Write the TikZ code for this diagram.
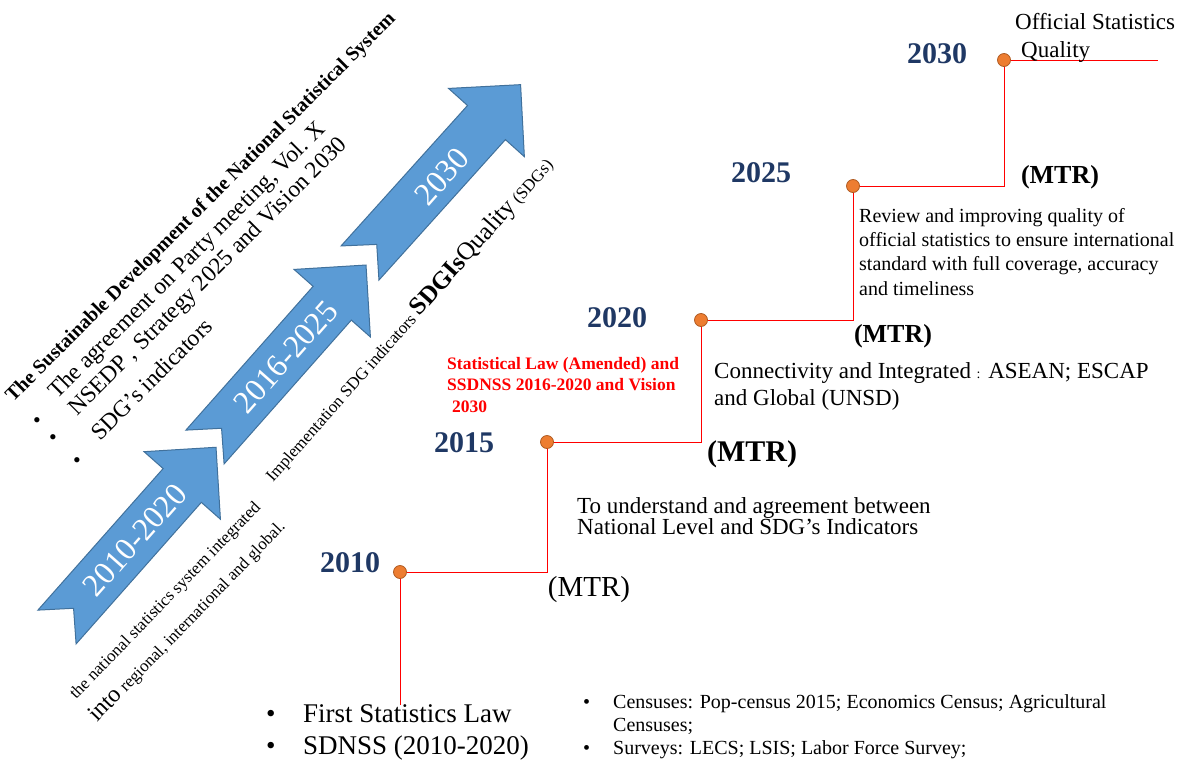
\documentclass[tikz,border=0pt]{standalone}
\usepackage{fontspec}
\setmainfont{Liberation Serif}
\usetikzlibrary{positioning}
\pgfdeclarelayer{background}
\pgfsetlayers{background,main}
\definecolor{arrowblue}{HTML}{5B9BD5}
\definecolor{arrowedge}{HTML}{41719C}
\definecolor{yearblue}{HTML}{1F3864}
\definecolor{dotorange}{HTML}{ED7D31}
\definecolor{dotedge}{HTML}{AE5A21}
\tikzset{
  yeararrow/.style={fill=arrowblue,draw=arrowedge,line width=1pt},
  arrowlabel/.style={text=white,inner sep=0pt,rotate=48.5,font=\fontsize{32}{36}\selectfont},
  yearlabel/.style={text=yearblue,inner sep=0pt,font=\fontsize{30}{34}\selectfont\bfseries},
  mtr/.style={inner sep=0pt,font=\fontsize{26}{30}\selectfont\bfseries},
  yeardot/.style={circle,fill=dotorange,draw=dotedge,line width=0.8pt,minimum size=13pt,inner sep=0pt},
  stepline/.style={draw=red,line width=0.9pt},
  note/.style={inner sep=0pt,anchor=north west,align=left},
  slanted/.style={inner sep=0pt,anchor=base west},
}

\begin{document}
\begin{tikzpicture}[x=1pt,y=-1pt,semithick]
  \useasboundingbox (0,0) rectangle (1185,761);

  % the three block arrows
  \draw[yeararrow,shift={(57,627)},rotate=48.5] (0,25.5) -- (189,25.5) -- (189,51) -- (240,0) -- (189,-51) -- (189,-25.5) -- (0,-25.5) -- (25,0) -- cycle;
  \draw[yeararrow,shift={(205,447)},rotate=48.5] (0,25.5) -- (192,25.5) -- (192,51) -- (243,0) -- (192,-51) -- (192,-25.5) -- (0,-25.5) -- (25,0) -- cycle;
  \draw[yeararrow,shift={(360,263)},rotate=48] (0,25.5) -- (189,25.5) -- (189,51) -- (240,0) -- (189,-51) -- (189,-25.5) -- (0,-25.5) -- (25,0) -- cycle;
  \node[arrowlabel] (p1) at (135,540) {2010-2020};
  \node[arrowlabel] (p2) at (286,357) {2016-2025};
  \node[arrowlabel] (p3) at (442,177) {2030};

  % slanted texts on the left
  \node[slanted,rotate=45,font=\fontsize{20}{24}\selectfont\bfseries] (title) at (13,403) {The Sustainable Development of the National Statistical System};
  \node[slanted,rotate=45,font=\fontsize{23.5}{28}\selectfont] (party) at (57,400) {The agreement on Party meeting,  Vol. X};
  \node[slanted,rotate=45,font=\fontsize{23.5}{28}\selectfont] (nsedp) at (77,417) {NSEDP , Strategy 2025 and Vision 2030};
  \node[slanted,rotate=45,font=\fontsize{23.5}{28}\selectfont] (sdgind) at (100,442) {SDG’s indicators};
  \node[inner sep=0pt,font=\fontsize{22}{26}\selectfont] (b1) at (37,423) {\textbullet};
  \node[inner sep=0pt,font=\fontsize{22}{26}\selectfont] (b2) at (53,440) {\textbullet};
  \node[inner sep=0pt,font=\fontsize{22}{26}\selectfont] (b3) at (77,463) {\textbullet};
  \node[slanted,rotate=46,font=\fontsize{17}{20}\selectfont] (integ) at (76,700) {the national statistics system integrated};
  \node[slanted,rotate=46,font=\fontsize{17}{20}\selectfont] (intl) at (97,723) {{\fontsize{24}{28}\selectfont into} regional, international and global.};
  \node[slanted,rotate=48.5,font=\fontsize{17}{20}\selectfont] (impl) at (273,483) {Implementation SDG indicators {\fontsize{25}{28}\selectfont\bfseries SDGIs}{\fontsize{25}{28}\selectfont Quality} (SDGs)};

  % timeline
  \node[yeardot] (d2010) at (400,572) {};
  \node[yeardot] (d2015) at (547,442) {};
  \node[yeardot] (d2020) at (701,320) {};
  \node[yeardot] (d2025) at (853,186) {};
  \node[yeardot] (d2030) at (1004,60) {};
  \coordinate (lawtop) at (400,705);
  \coordinate (lineend) at (1158,60);
  \begin{pgfonlayer}{background}
    \draw[stepline] (lawtop) -- (d2010.center) -| (d2015.center) -| (d2020.center) -| (d2025.center) -| (d2030.center) -- (lineend);
  \end{pgfonlayer}

  \node[yearlabel] (y2010) at (350,563) {2010};
  \node[yearlabel] (y2015) at (464,443) {2015};
  \node[yearlabel] (y2020) at (617,318) {2020};
  \node[yearlabel] (y2025) at (761,173) {2025};
  \node[yearlabel] (y2030) at (937,54) {2030};

  \node[mtr,font=\fontsize{29}{32}\selectfont] (mtr1) at (589,590) {(MTR)};
  \node[mtr,font=\fontsize{30}{34}\selectfont\bfseries] (mtr2) at (752,454) {(MTR)};
  \node[mtr] (mtr3) at (893,336) {(MTR)};
  \node[mtr] (mtr4) at (1060,177) {(MTR)};

  \node[note,font=\fontsize{23}{28}\selectfont] (quality) at (1015,13) {Official Statistics\\\hspace*{6pt}Quality};
  \node[note,font=\fontsize{20}{24.3}\selectfont] (review) at (859,208) {Review and improving quality of\\official statistics to ensure international\\standard with full coverage, accuracy\\and timeliness};
  \node[note,font=\fontsize{23}{27}\selectfont] (connect) at (714,362) {Connectivity and Integrated {\fontsize{14}{16}\selectfont:} ASEAN; ESCAP\\and Global (UNSD)};
  \node[note,font=\fontsize{23}{21.5}\selectfont] (understand) at (577,497) {To understand and agreement between\\National Level and SDG’s Indicators};
  \node[note,text=red,font=\fontsize{17.5}{21.5}\selectfont\bfseries] (lawred) at (447,357) {Statistical Law (Amended) and\\SSDNSS 2016-2020 and Vision\\\hspace*{5pt}2030};
  \node[note,font=\fontsize{27}{32}\selectfont] (lawlist) at (266,704) {\makebox[37pt][l]{\textbullet}First Statistics Law\\\makebox[37pt][l]{\textbullet}SDNSS (2010-2020)};
  \node[note,font=\fontsize{20}{23}\selectfont] (census) at (583,694) {\makebox[30pt][l]{\textbullet}Censuses: Pop-census 2015; Economics Census; Agricultural\\\hspace*{30pt}Censuses;\\\makebox[30pt][l]{\textbullet}Surveys: LECS; LSIS; Labor Force Survey;};
\end{tikzpicture}
\end{document}
